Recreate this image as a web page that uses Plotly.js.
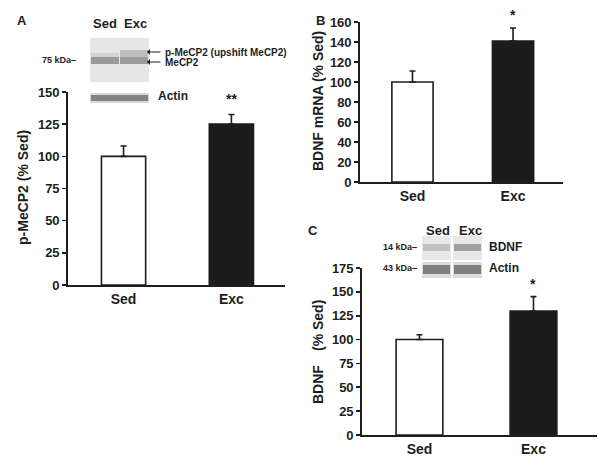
<!DOCTYPE html>
<html><head><meta charset="utf-8">
<script src="https://cdn.plot.ly/plotly-3.0.1.min.js"></script>
<style>html,body{margin:0;padding:0;background:#fff}#chart{width:600px;height:461px}</style>
</head><body><div id="chart"></div>
<script>
// ---- data ----
const categories = ['Sed', 'Exc'];
const pMeCP2Values = [100, 125];
const pMeCP2Err = [8, 7.5];
const bdnfMrnaValues = [100, 141];
const bdnfMrnaErr = [11, 13];
const bdnfProteinValues = [100, 130];
const bdnfProteinErr = [5, 15];
const tickValsA = [0, 25, 50, 75, 100, 125, 150];
const tickValsB = [0, 20, 40, 60, 80, 100, 120, 140, 160];
const tickValsC = [0, 25, 50, 75, 100, 125, 150, 175];
const starsA = '**', starsB = '*', starsC = '*';

const W = 600, H = 461;
const px = x => x / W, py = y => 1 - y / H;
const FONT = 'Liberation Sans, Arial, sans-serif';
const ink = '#1e1e1e';
const barColors = ['#ffffff', '#1c1c1c'];

function barTrace(vals, errs, xa, ya, width) {
  return {
    type: 'bar', x: categories, y: vals, xaxis: xa, yaxis: ya, width: width,
    marker: {color: barColors, line: {color: ink, width: 1.6}},
    error_y: {type: 'data', symmetric: false, array: errs, arrayminus: errs.map(() => 0),
      color: ink, thickness: 1.6, width: 3},
    hoverinfo: 'none', showlegend: false
  };
}
const data = [
  barTrace(pMeCP2Values, pMeCP2Err, 'x', 'y', 0.41),
  barTrace(bdnfMrnaValues, bdnfMrnaErr, 'x2', 'y2', 0.41),
  barTrace(bdnfProteinValues, bdnfProteinErr, 'x3', 'y3', 0.41)
];

const tickF = {family: FONT, size: 13, color: ink, weight: 'bold'};
const xTickF = {family: FONT, size: 14, color: ink, weight: 'bold'};
function xAxis(dom, range, anchor) {
  return {domain: dom, range: range, anchor: anchor, type: 'category', showline: true, linecolor: ink,
    linewidth: 1.8, ticks: '', showgrid: false, zeroline: false, tickfont: xTickF, fixedrange: true};
}
function yAxis(dom, range, tv, anchor) {
  return {domain: dom, range: range, anchor: anchor, tickvals: tv, showline: true, linecolor: ink,
    linewidth: 1.8, ticks: 'outside', ticklen: 4, tickwidth: 1.6, tickcolor: ink, showgrid: false,
    zeroline: false, tickfont: tickF, fixedrange: true};
}

function txt(x, y, t, size, opts) {
  return Object.assign({xref: 'paper', yref: 'paper', x: px(x), y: py(y), text: t, showarrow: false,
    font: {family: FONT, size: size, color: ink, weight: 'bold'}, xanchor: 'center', yanchor: 'middle'}, opts || {});
}
function arrow(xTip, y, len) {
  return {xref: 'paper', yref: 'paper', x: px(xTip), y: py(y), ax: len, ay: 0, text: '', showarrow: true,
    arrowhead: 1, arrowsize: 1, arrowwidth: 1, arrowcolor: ink};
}
function rect(x0, y0, x1, y1, fill, opacity) {
  return {type: 'rect', xref: 'paper', yref: 'paper', x0: px(x0), x1: px(x1), y0: py(y1), y1: py(y0),
    fillcolor: fill, line: {width: 0}, opacity: opacity == null ? 1 : opacity, layer: 'above'};
}

const annotations = [
  txt(22, 20, 'A', 13), txt(320, 20, 'B', 13), txt(313, 230, 'C', 13),
  // axis titles
  txt(23, 188, 'p-MeCP2 (% Sed)', 14, {textangle: -90}),
  txt(318, 101, 'BDNF mRNA (% Sed)', 14, {textangle: -90}),
  txt(318, 385, 'BDNF', 14, {textangle: -90}),
  txt(318, 326, '(% Sed)', 14, {textangle: -90}),
  // significance
  {xref: 'x', yref: 'y', x: 'Exc', y: pMeCP2Values[1] + pMeCP2Err[1], yshift: 16, text: starsA, showarrow: false,
    font: {family: FONT, size: 14, color: ink, weight: 'bold'}},
  {xref: 'x2', yref: 'y2', x: 'Exc', y: bdnfMrnaValues[1] + bdnfMrnaErr[1], yshift: 13, text: starsB, showarrow: false,
    font: {family: FONT, size: 14, color: ink, weight: 'bold'}},
  {xref: 'x3', yref: 'y3', x: 'Exc', y: bdnfProteinValues[1] + bdnfProteinErr[1], yshift: 13, text: starsC, showarrow: false,
    font: {family: FONT, size: 14, color: ink, weight: 'bold'}},
  // blot labels panel A
  txt(105, 23, 'Sed', 13), txt(135, 23, 'Exc', 13),
  txt(78, 60, '75 kDa\u2012', 9, {xanchor: 'right'}),
  txt(163, 52, 'p-MeCP2 (upshift MeCP2)', 10, {xanchor: 'left'}),
  txt(163, 62, 'MeCP2', 10, {xanchor: 'left'}),
  txt(156, 96, 'Actin', 12, {xanchor: 'left'}),
  arrow(147, 52, 15), arrow(147, 62, 15),
  // blot labels panel C
  txt(438, 230, 'Sed', 13), txt(470, 230, 'Exc', 13),
  txt(419, 247, '14 kDa\u2012', 9, {xanchor: 'right'}),
  txt(419, 268, '43 kDa\u2012', 9, {xanchor: 'right'}),
  txt(487, 247, 'BDNF', 12, {xanchor: 'left'}),
  txt(487, 268, 'Actin', 12, {xanchor: 'left'})
];

const shapes = [
  // panel A MeCP2 blot
  rect(90, 38, 149, 82, '#e6e6e6'),
  rect(91, 57, 119, 64, '#8c8c8c', 0.85),
  rect(120, 57, 148, 64, '#8c8c8c', 0.85),
  rect(120, 50, 148, 57, '#b4b4b4', 0.8),
  rect(91, 53, 119, 57, '#cfcfcf', 0.8),
  // panel A actin
  rect(90, 93, 149, 103, '#d8d8d8'),
  rect(91, 95, 148, 101, '#7a7a7a', 0.9),
  // panel C BDNF blot
  rect(422, 236, 451, 260, '#e8e8e8'),
  rect(453, 236, 482, 260, '#e8e8e8'),
  rect(423, 244, 450, 251, '#c2c2c2'),
  rect(454, 244, 481, 251, '#a0a0a0'),
  // panel C actin
  rect(422, 262, 451, 278, '#dcdcdc'),
  rect(453, 262, 482, 278, '#dcdcdc'),
  rect(423, 265, 450, 274, '#7e7e7e'),
  rect(454, 265, 481, 274, '#7e7e7e')
];

const layout = {
  width: W, height: H, margin: {l: 0, r: 0, t: 0, b: 0},
  paper_bgcolor: '#ffffff', plot_bgcolor: 'rgba(0,0,0,0)',
  font: {family: FONT, size: 13, color: ink, weight: 'bold'},
  bargap: 0,
  xaxis: xAxis([px(68), px(285)], [-0.515, 1.497], 'y'),
  yaxis: yAxis([py(285), py(92)], [0, 150], tickValsA, 'x'),
  xaxis2: xAxis([px(360), px(563)], [-0.522, 1.497], 'y2'),
  yaxis2: yAxis([py(182), py(22)], [0, 160], tickValsB, 'x2'),
  xaxis3: xAxis([px(362), px(597)], [-0.504, 1.557], 'y3'),
  yaxis3: yAxis([py(435), py(268)], [0, 175], tickValsC, 'x3'),
  annotations: annotations, shapes: shapes
};
Plotly.newPlot('chart', data, layout, {staticPlot: true, displayModeBar: false});
</script></body></html>
